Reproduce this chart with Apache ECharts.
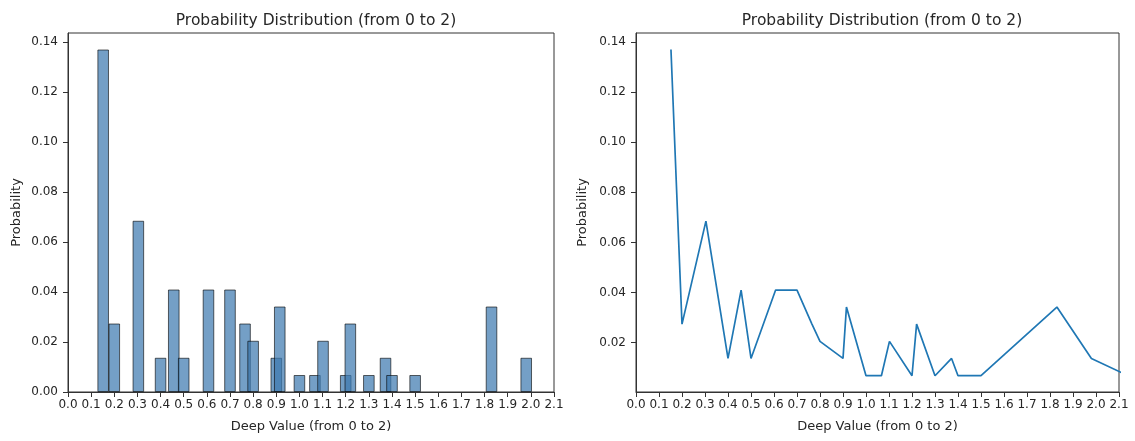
<!DOCTYPE html>
<html>
<head>
<meta charset="utf-8">
<script src="https://cdn.jsdelivr.net/npm/echarts@6/dist/echarts.min.js"></script>
<style>html,body{margin:0;padding:0;background:#fff}#c{width:1135px;height:441px}</style>
</head>
<body>
<div id="c"></div>
<script>
const deepValues = [0.152, 0.2, 0.304, 0.4, 0.457, 0.5, 0.607, 0.7, 0.765, 0.8, 0.9, 0.915, 1.0, 1.067, 1.102, 1.2, 1.22, 1.3, 1.372, 1.4, 1.5, 1.83, 1.98, 2.14];
const probabilities = [0.137, 0.0274, 0.0685, 0.0137, 0.041, 0.0137, 0.041, 0.041, 0.0274, 0.0205, 0.0137, 0.0342, 0.0068, 0.0068, 0.0205, 0.0068, 0.0274, 0.0068, 0.0137, 0.0068, 0.0068, 0.0342, 0.0137, 0.0068];
const xTicks = [0.0,0.1,0.2,0.3,0.4,0.5,0.6,0.7,0.8,0.9,1.0,1.1,1.2,1.3,1.4,1.5,1.6,1.7,1.8,1.9,2.0,2.1];
const yTicksLeft = [0.00,0.02,0.04,0.06,0.08,0.10,0.12,0.14];
const yTicksRight = [0.02,0.04,0.06,0.08,0.10,0.12,0.14];
const titleText = 'Probability Distribution (from 0 to 2)';
const xName = 'Deep Value (from 0 to 2)';
const yName = 'Probability';

const pts = deepValues.map((x, i) => [x, probabilities[i]]);
const font = 'DejaVu Sans';
const txt = '#262626';

function xAxis(gi) {
  return {
    type: 'value', gridIndex: gi, min: 0, max: 2.1,
    name: xName, nameLocation: 'middle', nameGap: 28,
    nameTextStyle: {fontFamily: font, fontSize: 13, color: txt},
    axisLine: {show: true, onZero: false, lineStyle: {color: '#333', width: 1}},
    axisTick: {show: true, length: 5, lineStyle: {color: '#333'}, customValues: xTicks},
    axisLabel: {customValues: xTicks, fontFamily: font, fontSize: 12, color: txt, margin: 7,
      formatter: v => v.toFixed(1)},
    splitLine: {show: false}
  };
}
function yAxis(gi, min, ticks, gap) {
  return {
    type: 'value', gridIndex: gi, min: min, max: 0.1436,
    name: yName, nameLocation: 'middle', nameGap: gap,
    nameTextStyle: {fontFamily: font, fontSize: 13, color: txt},
    axisLine: {show: true, lineStyle: {color: '#333', width: 1}},
    axisTick: {show: true, length: 5, lineStyle: {color: '#333'}, customValues: ticks},
    axisLabel: {customValues: ticks, fontFamily: font, fontSize: 12, color: txt, margin: 10,
      formatter: v => v.toFixed(2)},
    splitLine: {show: false}
  };
}

const chart = echarts.init(document.getElementById('c'), null, {renderer: 'canvas'});
chart.setOption({
  animation: false,
  backgroundColor: '#fff',
  title: [
    {text: titleText, left: 311, top: 8, textAlign: 'center',
     textStyle: {fontFamily: font, fontSize: 15.5, fontWeight: 'normal', color: txt}},
    {text: titleText, left: 877, top: 8, textAlign: 'center',
     textStyle: {fontFamily: font, fontSize: 15.5, fontWeight: 'normal', color: txt}}
  ],
  grid: [
    {left: 68, right: 581, top: 33, bottom: 49, show: true, borderColor: '#333', borderWidth: 1, backgroundColor: 'transparent'},
    {left: 636, right: 16, top: 33, bottom: 49, show: true, borderColor: '#333', borderWidth: 1, backgroundColor: 'transparent'}
  ],
  xAxis: [xAxis(0), xAxis(1)],
  yAxis: [yAxis(0, 0, yTicksLeft, 45), yAxis(1, 0.0003, yTicksRight, 47)],
  series: [
    {type: 'bar', xAxisIndex: 0, yAxisIndex: 0, data: pts, barWidth: 11.6,
     itemStyle: {color: 'rgba(62,122,176,0.72)', borderColor: 'rgba(0,0,0,0.6)', borderWidth: 1}},
    {type: 'line', xAxisIndex: 1, yAxisIndex: 1, data: pts, showSymbol: false, clip: true,
     lineStyle: {color: '#1f77b4', width: 1.7}}
  ]
});
</script>
</body>
</html>
